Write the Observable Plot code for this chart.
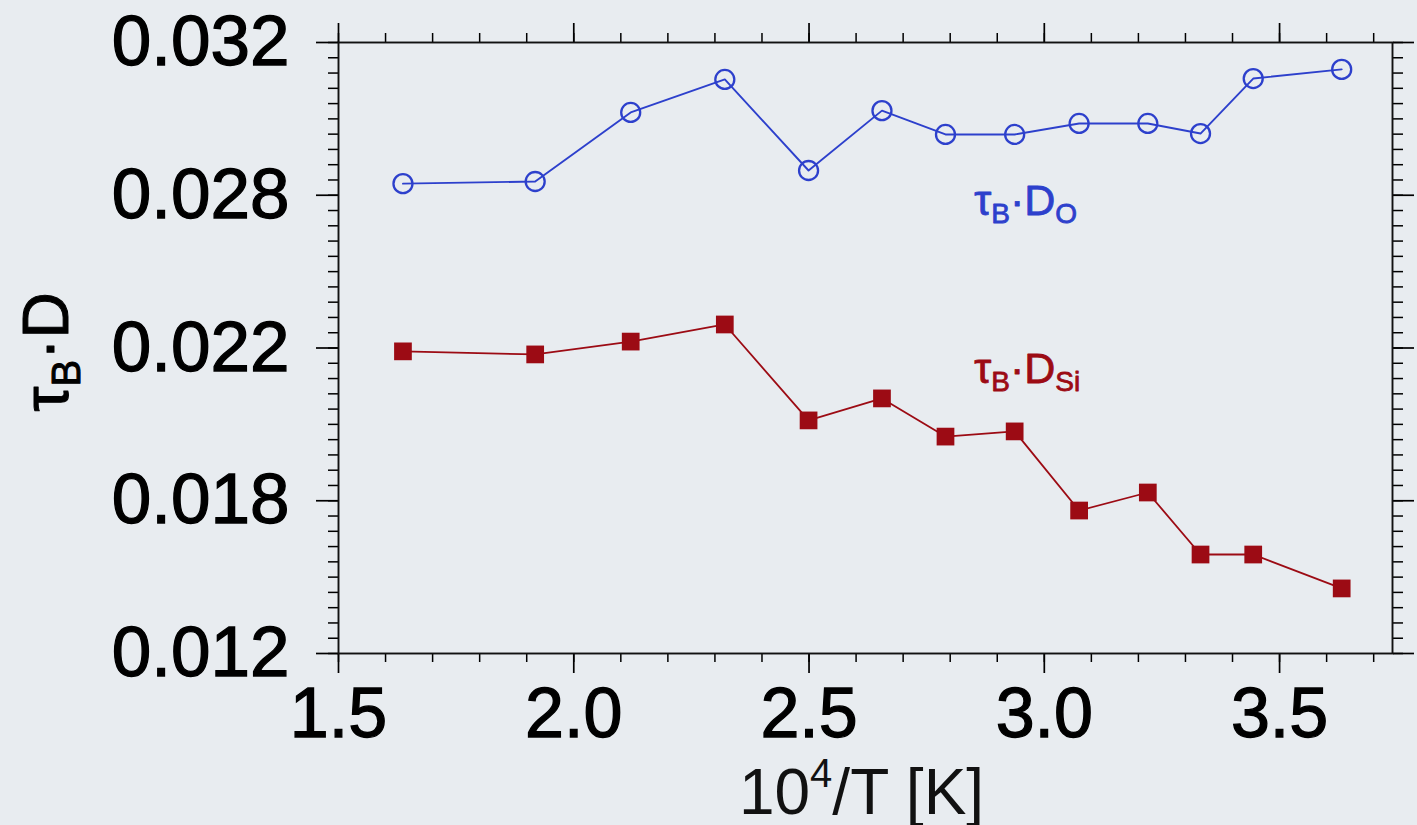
<!DOCTYPE html>
<html>
<head>
<meta charset="utf-8">
<script src="https://cdn.jsdelivr.net/npm/d3@7"></script>
<script src="https://cdn.jsdelivr.net/npm/@observablehq/plot@0.6"></script>
<style>
  html, body { margin: 0; padding: 0; background: #e8ecf0; overflow: hidden; }
  #chart { width: 1417px; height: 825px; }
  #chart svg text { paint-order: stroke; }
  #chart svg g[aria-label="x-axis tick label"] text,
  #chart svg g[aria-label="y-axis tick label"] text { stroke: #000; stroke-width: 1.3px; }
  #chart svg .heavy text { stroke-width: 0.9px; }
</style>
</head>
<body>
<div id="chart"></div>
<script>
// ---- data ----
const invTemp = [1.637, 1.918, 2.121, 2.321, 2.499, 2.655, 2.790, 2.937, 3.074, 3.220, 3.332, 3.444, 3.632];
const tauD_O  = [0.02738, 0.02745, 0.02971, 0.03079, 0.02781, 0.02977, 0.02899, 0.02899, 0.02935, 0.02935, 0.02902, 0.03082, 0.03112];
const tauD_Si = [0.02189, 0.02179, 0.02221, 0.02277, 0.01963, 0.02035, 0.01910, 0.01927, 0.01668, 0.01727, 0.01524, 0.01524, 0.01413];

const xTicks = [1.5, 2.0, 2.5, 3.0, 3.5];
const xTickLabels = ["1.5", "2.0", "2.5", "3.0", "3.5"];
const yTicks = [0.012, 0.017, 0.022, 0.027, 0.032];
const yTickLabels = ["0.012", "0.018", "0.022", "0.028", "0.032"];

const seriesNames = ["τB·DO", "τB·DSi"];
const seriesLabelX = [2.851, 2.851];
const seriesLabelY = [0.02634, 0.02087];

// ---- styling ----
const BLUE = "#2d40cc";
const RED = "#9c0b14";
const FONT = "'Liberation Sans', Arial, Helvetica, sans-serif";

const rows = invTemp.map((x, i) => ({x, o: tauD_O[i], si: tauD_Si[i]}));
const labelRows = seriesNames.map((name, i) => ({name, x: seriesLabelX[i], y: seriesLabelY[i], c: i === 0 ? BLUE : RED}));

const xMinor = d3.range(15, 38).map(v => v / 10);
const yMinor = d3.range(24, 65).map(v => v / 2000);

const xFmt = d => xTickLabels[xTicks.indexOf(d)];
const yFmt = d => yTickLabels[yTicks.indexOf(d)];
const blank = () => "";

const chart = Plot.plot({
  width: 1417,
  height: 825,
  marginLeft: 338,
  marginRight: 25,
  marginTop: 42,
  marginBottom: 172,
  x: {domain: [1.5, 3.74]},
  y: {domain: [0.012, 0.032]},
  style: {background: "#e8ecf0", fontFamily: FONT, fontSize: "70px", color: "black", overflow: "visible"},
  marks: [
    // minor ticks
    Plot.axisX(xMinor, {anchor: "bottom", tickSize: 9, tickFormat: blank, strokeWidth: 1.5, label: null}),
    Plot.axisX(xMinor, {anchor: "top", tickSize: 10, tickFormat: blank, strokeWidth: 1.5, label: null}),
    Plot.axisY(yMinor, {anchor: "left", tickSize: 10, tickFormat: blank, strokeWidth: 1.5, label: null}),
    Plot.axisY(yMinor, {anchor: "right", tickSize: 10, tickFormat: blank, strokeWidth: 1.5, label: null}),
    // major ticks
    Plot.axisX(xTicks, {anchor: "bottom", tickSize: 20, tickPadding: 14, tickFormat: xFmt, fontSize: 70, strokeWidth: 1.7, label: null}),
    Plot.axisX(xTicks, {anchor: "top", tickSize: 20, tickFormat: blank, strokeWidth: 1.7, label: null}),
    Plot.axisY(yTicks, {anchor: "left", tickSize: 22, tickPadding: 27, tickFormat: yFmt, fontSize: 71, strokeWidth: 1.7, label: null}),
    Plot.axisY(yTicks, {anchor: "right", tickSize: 21, tickFormat: blank, strokeWidth: 1.7, label: null}),
    Plot.frame({stroke: "#111", strokeWidth: 1.9}),
    // series
    Plot.line(rows, {x: "x", y: "o", stroke: BLUE, strokeWidth: 1.9}),
    Plot.dot(rows, {x: "x", y: "o", r: 9.5, stroke: BLUE, strokeWidth: 2.3, fill: "none"}),
    Plot.line(rows, {x: "x", y: "si", stroke: RED, strokeWidth: 1.8}),
    Plot.dot(rows, {x: "x", y: "si", symbol: "square", r: 10, fill: RED, stroke: "none"}),
    // series labels
    Plot.text(labelRows, {x: "x", y: "y", text: "name", fill: "c", stroke: "c", strokeWidth: 0.8, fontSize: 43, textAnchor: "start", lineAnchor: "bottom"}),
    // axis titles
    Plot.text(["τB·D"], {frameAnchor: "left", dx: -271, dy: 4, rotate: -90, fontSize: 64, fill: "black", stroke: "black", strokeWidth: 1, textAnchor: "middle", lineAnchor: "bottom"}),
    Plot.text(["10⁴/T [K]"], {frameAnchor: "bottom", dx: -4, dy: 160, fontSize: 64, fill: "#111", textAnchor: "middle", lineAnchor: "bottom"})
  ]
});

// rebuild label texts with real subscripts
const SVGNS = "http://www.w3.org/2000/svg";
const rich = {
  "τB·DO":  {parts: [["τ", 0], ["B", 1], ["·D", 0], ["O", 1]], sub: 28, shift: 8},
  "τB·DSi": {parts: [["τ", 0], ["B", 1], ["·D", 0], ["Si", 1]], sub: 28, shift: 8},
  "τB·D":   {parts: [["τ", 0], ["B", 1], ["·D", 0]], sub: 40, shift: 12}
};
chart.querySelectorAll("text").forEach(t => {
  const spec = rich[t.textContent];
  if (!spec) return;
  t.textContent = "";
  let down = false;
  for (const [s, isSub] of spec.parts) {
    const ts = document.createElementNS(SVGNS, "tspan");
    ts.textContent = s;
    if (isSub) {
      ts.setAttribute("font-size", spec.sub);
      if (!down) { ts.setAttribute("dy", spec.shift); down = true; }
    } else if (down) {
      ts.setAttribute("dy", -spec.shift); down = false;
    }
    t.appendChild(ts);
  }
});
// superscript in x title
chart.querySelectorAll("text").forEach(t => {
  if (t.textContent !== "10⁴/T [K]") return;
  t.textContent = "";
  const a = document.createElementNS(SVGNS, "tspan"); a.textContent = "10";
  const b = document.createElementNS(SVGNS, "tspan"); b.textContent = "4"; b.setAttribute("font-size", 40); b.setAttribute("dy", -27);
  const c = document.createElementNS(SVGNS, "tspan"); c.textContent = "/T [K]"; c.setAttribute("dy", 27);
  t.append(a, b, c);
});

document.getElementById("chart").appendChild(chart);
</script>
</body>
</html>
